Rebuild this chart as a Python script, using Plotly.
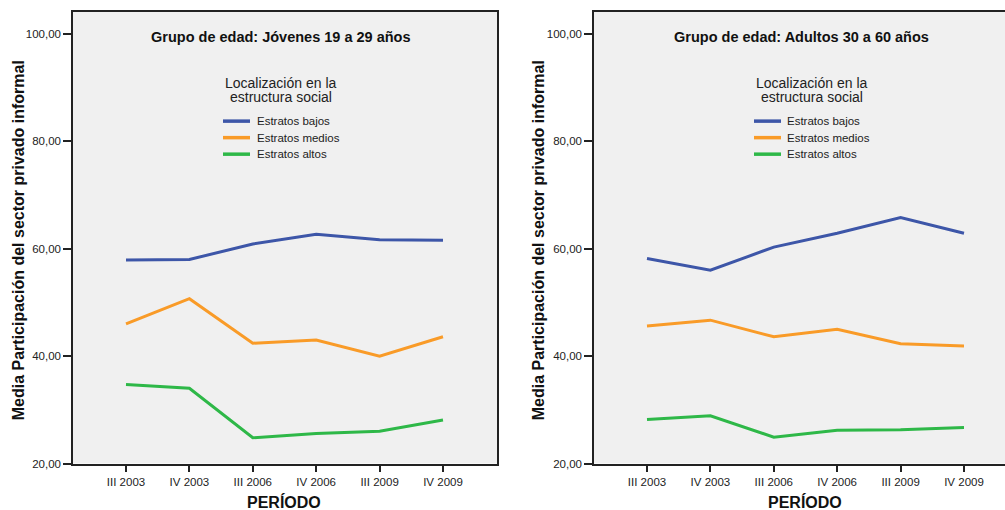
import plotly.graph_objects as go

periodos = ["III 2003", "IV 2003", "III 2006", "IV 2006", "III 2009", "IV 2009"]
series_names = ["Estratos bajos", "Estratos medios", "Estratos altos"]

jovenes_bajos = [57.9, 58.0, 60.9, 62.7, 61.7, 61.6]
jovenes_medios = [46.0, 50.7, 42.4, 43.0, 40.0, 43.6]
jovenes_altos = [34.7, 34.0, 24.8, 25.6, 26.0, 28.1]

adultos_bajos = [58.2, 56.0, 60.3, 62.9, 65.8, 62.9]
adultos_medios = [45.6, 46.7, 43.6, 45.0, 42.3, 41.9]
adultos_altos = [28.2, 28.9, 24.9, 26.2, 26.3, 26.7]

y_ticks = [20, 40, 60, 80, 100]

colors = ["#3D56A8", "#F99B28", "#2EB848"]
FONT = "Liberation Sans, Arial, Helvetica, sans-serif"
W, H = 1005, 510
KY = 1.013  # vertical compensation for the capture

fig = go.Figure()

panels = [
    ([jovenes_bajos, jovenes_medios, jovenes_altos], "x", "y"),
    ([adultos_bajos, adultos_medios, adultos_altos], "x2", "y2"),
]
for vals, xa, ya in panels:
    for name, v, c in zip(series_names, vals, colors):
        fig.add_trace(go.Scatter(
            x=periodos, y=v, mode="lines", name=name, showlegend=False,
            line=dict(color=c, width=3), xaxis=xa, yaxis=ya,
        ))

def px(x):
    return x / W

def py(y):
    return 1 - (y * KY) / H

step = 63.4
left_dom = [px(73), px(497)]
right_dom = [px(594), 1.0]
y_dom = [py(463), py(12)]

x_common = dict(
    type="category", categoryorder="array", categoryarray=periodos,
    showline=True, linecolor="#222222", linewidth=1.5,
    ticks="outside", ticklen=7, tickcolor="#222222", tickwidth=1.5,
    tickfont=dict(family=FONT, size=11.5, color="#222222"),
    showgrid=False, zeroline=False, fixedrange=True,
)
y_common = dict(
    range=[20, 104.1], tickvals=y_ticks, tickformat=".2f",
    showline=True, linecolor="#222222", linewidth=1.5,
    ticks="outside", ticklen=8, tickcolor="#222222", tickwidth=1.5,
    tickfont=dict(family=FONT, size=11.5, color="#222222"),
    showgrid=False, zeroline=False, fixedrange=True,
)

fig.update_layout(
    width=W, height=H,
    margin=dict(l=0, r=0, t=0, b=0),
    paper_bgcolor="white", plot_bgcolor="#F0F0F0",
    separators=",.",
    showlegend=False,
    font=dict(family=FONT, color="#222222"),
    xaxis=dict(domain=left_dom, range=[-0.836, -0.836 + 424 / step], mirror=True, anchor="y", **x_common),
    yaxis=dict(domain=y_dom, mirror=True, anchor="x", **y_common),
    xaxis2=dict(domain=right_dom, range=[-0.836, -0.836 + 411 / step], mirror=True, anchor="y2", **x_common),
    yaxis2=dict(domain=y_dom, mirror=False, anchor="x2", **y_common),
)

def add_text(text, x, y, size, angle=0, xanchor="center", color="#111111"):
    fig.add_annotation(
        text=text, x=px(x), y=py(y), xref="paper", yref="paper",
        xanchor=xanchor, yanchor="middle", showarrow=False, textangle=angle,
        font=dict(family=FONT, size=size, color=color),
    )

titles = ["Grupo de edad: Jóvenes 19 a 29 años", "Grupo de edad: Adultos 30 a 60 años"]
legend_title_lines = ["Localización en la", "estructura social"]

# panel-specific placement (pixels)
panel_pos = [
    dict(title_x=281, xlab_x=284, ytit_x=18, leg_title_x=281, key_x0=223, key_x1=250, text_x=255),
    dict(title_x=801, xlab_x=805, ytit_x=538, leg_title_x=812, key_x0=754, key_x1=781, text_x=785),
]

for title, p in zip(titles, panel_pos):
    add_text("<b>" + title + "</b>", p["title_x"], 37, 14.5)
    add_text("<b>PERÍODO</b>", p["xlab_x"], 501, 16)
    add_text("<b>Media Participación del sector privado informal</b>", p["ytit_x"], 240, 16, angle=-90)
    for k, line in enumerate(legend_title_lines):
        add_text(line, p["leg_title_x"], 83 + 14 * k, 14, color="#222222")
    for k, (name, c) in enumerate(zip(series_names, colors)):
        yk = 121 + 16.5 * k
        fig.add_shape(type="line", xref="paper", yref="paper",
                      x0=px(p["key_x0"]), x1=px(p["key_x1"]), y0=py(yk), y1=py(yk),
                      line=dict(color=c, width=3.5))
        add_text(name, p["text_x"], yk, 11.5, xanchor="left", color="#222222")

post = (
    "document.documentElement.style.margin='0px';"
    "document.documentElement.style.overflow='hidden';"
    "document.body.style.margin='0px';"
    "document.body.style.overflow='hidden';"
)
fig.write_html("out.html", config={"displayModeBar": False}, post_script=post)
